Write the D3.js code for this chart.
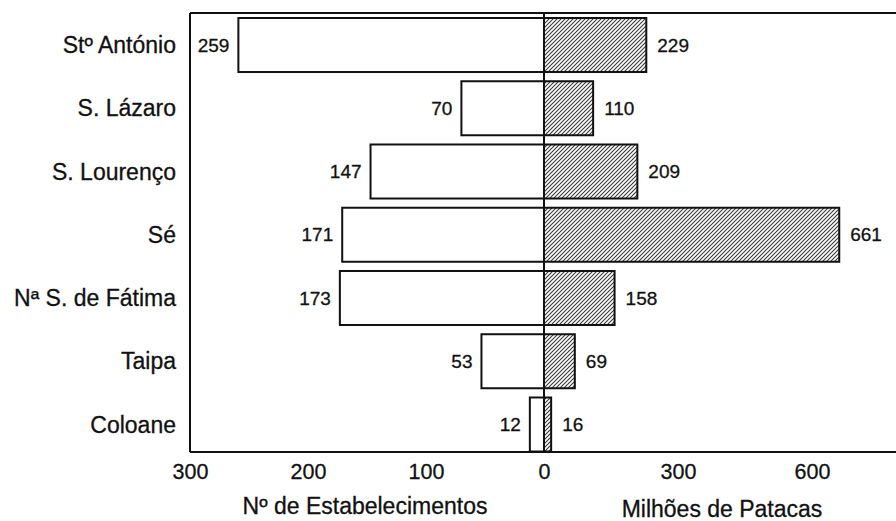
<!DOCTYPE html>
<html>
<head>
<meta charset="utf-8">
<script src="https://cdn.jsdelivr.net/npm/d3@7"></script>
<style>
  html, body { margin: 0; padding: 0; background: #fff; }
  svg { display: block; }
  text { font-family: "Liberation Sans", Arial, Helvetica, sans-serif; fill: #111; stroke: #111; stroke-width: 0.3px; }
</style>
</head>
<body>
<script>
const categories = ["Stº António", "S. Lázaro", "S. Lourenço", "Sé", "Nª S. de Fátima", "Taipa", "Coloane"];
const estabelecimentos = [259, 70, 147, 171, 173, 53, 12];
const patacas = [229, 110, 209, 661, 158, 69, 16];
const leftTicks = [300, 200, 100, 0];
const rightTicks = [300, 600];
const leftTitle = "Nº de Estabelecimentos";
const rightTitle = "Milhões de Patacas";

const W = 896, H = 521;
const frameLeft = 190, frameTop = 13, frameBottom = 452, zeroX = 544;

const svg = d3.select("body").append("svg").attr("width", W).attr("height", H);

const defs = svg.append("defs");
const pat = defs.append("pattern")
  .attr("id", "hatch").attr("patternUnits", "userSpaceOnUse")
  .attr("width", 4).attr("height", 4);
pat.append("rect").attr("width", 4).attr("height", 4).attr("fill", "#fff");
pat.append("path").attr("d", "M-1,1 l2,-2 M0,4 l4,-4 M3,5 l2,-2")
  .attr("stroke", "#333").attr("stroke-width", 1.05);

const y = d3.scaleBand().domain(categories).range([18, 451.5]).paddingInner(0.146).paddingOuter(0);
const xL = d3.scaleLinear().domain([0, 300]).range([zeroX, frameLeft]);
const xR = d3.scaleLinear().domain([0, 600]).range([zeroX, zeroX + 268]);

const rows = categories.map((c, i) => ({ c, e: estabelecimentos[i], p: patacas[i] }));

// left bars (white)
svg.append("g").selectAll("rect").data(rows).join("rect")
  .attr("x", d => xL(d.e)).attr("y", d => y(d.c))
  .attr("width", d => xL(0) - xL(d.e)).attr("height", y.bandwidth())
  .attr("fill", "#fff").attr("stroke", "#111").attr("stroke-width", 2);

// right bars (hatched)
svg.append("g").selectAll("rect").data(rows).join("rect")
  .attr("x", xR(0)).attr("y", d => y(d.c))
  .attr("width", d => xR(d.p) - xR(0)).attr("height", y.bandwidth())
  .attr("fill", "url(#hatch)").attr("stroke", "#111").attr("stroke-width", 2);

// frame
const frame = svg.append("g").attr("stroke", "#111").attr("stroke-width", 2).attr("fill", "none");
frame.append("line").attr("x1", frameLeft).attr("x2", W).attr("y1", frameTop).attr("y2", frameTop);
frame.append("line").attr("x1", frameLeft).attr("x2", frameLeft).attr("y1", frameTop).attr("y2", frameBottom);
frame.append("line").attr("x1", frameLeft).attr("x2", W).attr("y1", frameBottom).attr("y2", frameBottom);
frame.append("line").attr("x1", xL(0)).attr("x2", xL(0)).attr("y1", frameTop).attr("y2", frameBottom);

// category labels
svg.append("g").selectAll("text").data(rows).join("text")
  .attr("x", 176).attr("y", d => y(d.c) + y.bandwidth() / 2).attr("dy", "0.35em")
  .attr("text-anchor", "end").attr("font-size", 23)
  .text(d => d.c);

// value labels
svg.append("g").selectAll("text").data(rows).join("text")
  .attr("x", d => xL(d.e) - 9).attr("y", d => y(d.c) + y.bandwidth() / 2).attr("dy", "0.35em")
  .attr("text-anchor", "end").attr("font-size", 19)
  .text(d => d.e);
svg.append("g").selectAll("text").data(rows).join("text")
  .attr("x", d => xR(d.p) + 11).attr("y", d => y(d.c) + y.bandwidth() / 2).attr("dy", "0.35em")
  .attr("text-anchor", "start").attr("font-size", 19)
  .text(d => d.p);

// axes
function styleAxis(g) {
  g.select(".domain").remove();
  g.selectAll(".tick line").remove();
  g.selectAll(".tick text").attr("y", 27).attr("dy", 0)
    .attr("font-size", 21.5).attr("font-family", "Liberation Sans, Arial, sans-serif").attr("fill", "#111");
}
svg.append("g").attr("transform", `translate(0,${frameBottom})`)
  .call(d3.axisBottom(xL).tickValues(leftTicks).tickFormat(d3.format("d")).tickSize(0))
  .call(styleAxis);
svg.append("g").attr("transform", `translate(0,${frameBottom})`)
  .call(d3.axisBottom(xR).tickValues(rightTicks).tickFormat(d3.format("d")).tickSize(0))
  .call(styleAxis);

svg.append("text").attr("x", 365).attr("y", 514).attr("text-anchor", "middle")
  .attr("font-size", 23).text(leftTitle);
svg.append("text").attr("x", 722).attr("y", 517).attr("text-anchor", "middle")
  .attr("font-size", 23).text(rightTitle);
</script>
</body>
</html>
